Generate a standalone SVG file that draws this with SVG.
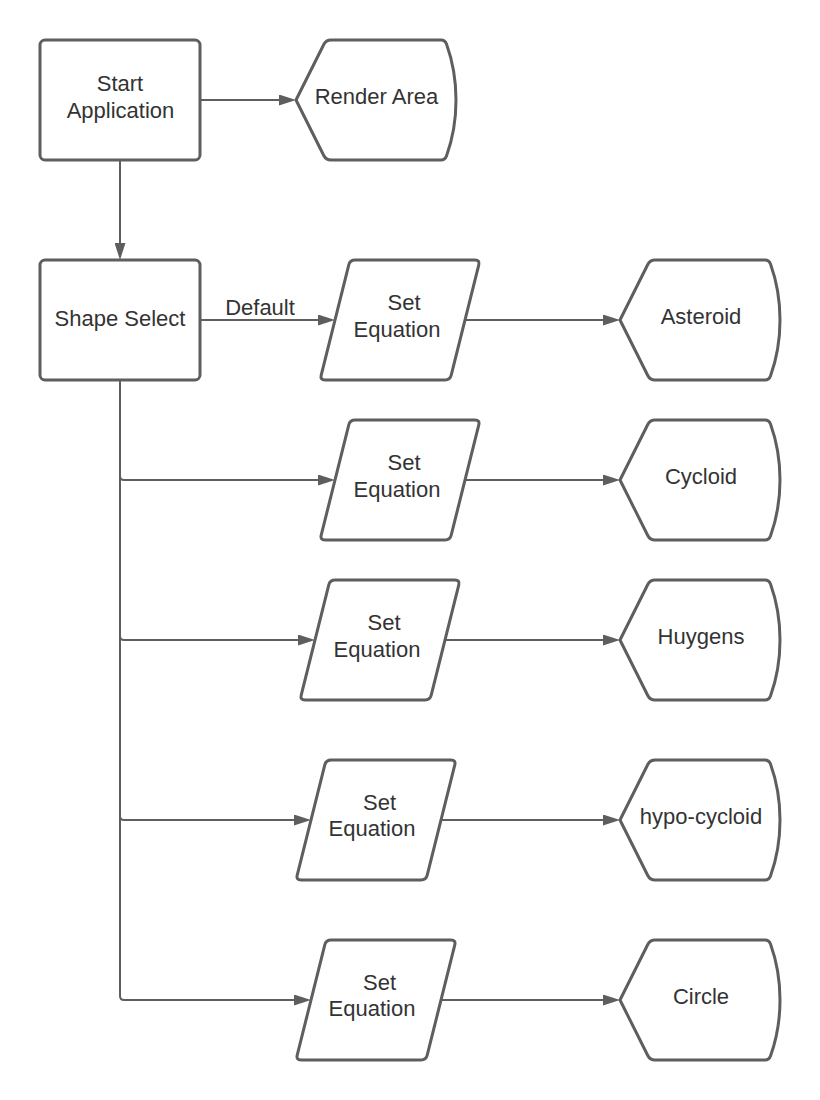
<svg xmlns="http://www.w3.org/2000/svg" xmlns:xlink="http://www.w3.org/1999/xlink" width="820" height="1100" viewBox="0 0 820 1100">
  <style>
    .shape { fill: #ffffff; stroke: #5e5e5e; stroke-width: 3; stroke-linejoin: round; }
    .conn { fill: none; stroke: #5e5e5e; stroke-width: 2; }
    .label { font-family: "Liberation Sans", Arial, sans-serif; font-size: 22px; fill: #333333; text-anchor: middle; }
  </style>
  <defs>
    <marker id="arrow" markerUnits="userSpaceOnUse" markerWidth="17" markerHeight="11" refX="14" refY="5.5" orient="auto">
      <path d="M0,0 L17,5.5 L0,11 Z" fill="#5e5e5e"/>
    </marker>
    <!-- process box, 160 x 120 -->
    <rect id="box" x="0" y="0" width="160" height="120" rx="5" ry="5"/>
    <!-- input/output parallelogram, 160 x 120, slant 30 -->
    <path id="para" d="M28.79,4.85 Q30,0 35,0 H155 Q160,0 158.79,4.85 L131.21,115.15 Q130,120 125,120 H5 Q0,120 1.21,115.15 Z"/>
    <!-- display shape, 160 x 120 -->
    <path id="display" d="M0,60 L27.76,4.47 Q30,0 35,0 H145 Q149,0 150.5,4 C157,22 160,42 160,60 C160,78 157,98 150.5,116 Q149,120 145,120 H35 Q30,120 27.76,115.53 Z"/>
  </defs>

  <!-- connectors -->
  <g id="connectors">
    <path class="conn" d="M200,100 H293" marker-end="url(#arrow)"/>
    <path class="conn" d="M120,160 V257" marker-end="url(#arrow)"/>
    <path class="conn" d="M200,320 H332" marker-end="url(#arrow)"/>
    <text class="label" x="260" y="315">Default</text>
    <path class="conn" d="M465,320 H617" marker-end="url(#arrow)"/>

    <path class="conn" d="M120,380 V476 Q120,480 124,480 H332" marker-end="url(#arrow)"/>
    <path class="conn" d="M465,480 H617" marker-end="url(#arrow)"/>

    <path class="conn" d="M120,380 V636 Q120,640 124,640 H312" marker-end="url(#arrow)"/>
    <path class="conn" d="M445,640 H617" marker-end="url(#arrow)"/>

    <path class="conn" d="M120,380 V816 Q120,820 124,820 H308" marker-end="url(#arrow)"/>
    <path class="conn" d="M441,820 H617" marker-end="url(#arrow)"/>

    <path class="conn" d="M120,380 V996 Q120,1000 124,1000 H308" marker-end="url(#arrow)"/>
    <path class="conn" d="M441,1000 H617" marker-end="url(#arrow)"/>
  </g>

  <g id="start-application">
    <use href="#box" xlink:href="#box" class="shape" x="40" y="40"/>
    <text class="label" x="120" y="91">Start</text>
    <text class="label" x="120.5" y="117.5">Application</text>
  </g>

  <g id="render-area">
    <use href="#display" xlink:href="#display" class="shape" x="296" y="40"/>
    <text class="label" x="376.5" y="104">Render Area</text>
  </g>

  <g id="shape-select">
    <use href="#box" xlink:href="#box" class="shape" x="40" y="260"/>
    <text class="label" x="120" y="326">Shape Select</text>
  </g>

  <g id="set-equation-1">
    <use href="#para" xlink:href="#para" class="shape" x="320" y="260"/>
    <text class="label" x="404" y="310">Set</text>
    <text class="label" x="397" y="337">Equation</text>
  </g>
  <g id="asteroid">
    <use href="#display" xlink:href="#display" class="shape" x="620" y="260"/>
    <text class="label" x="701" y="324">Asteroid</text>
  </g>

  <g id="set-equation-2">
    <use href="#para" xlink:href="#para" class="shape" x="320" y="420"/>
    <text class="label" x="404" y="470">Set</text>
    <text class="label" x="397" y="497">Equation</text>
  </g>
  <g id="cycloid">
    <use href="#display" xlink:href="#display" class="shape" x="620" y="420"/>
    <text class="label" x="701" y="484">Cycloid</text>
  </g>

  <g id="set-equation-3">
    <use href="#para" xlink:href="#para" class="shape" x="300" y="580"/>
    <text class="label" x="384" y="630">Set</text>
    <text class="label" x="377" y="657">Equation</text>
  </g>
  <g id="huygens">
    <use href="#display" xlink:href="#display" class="shape" x="620" y="580"/>
    <text class="label" x="701" y="644">Huygens</text>
  </g>

  <g id="set-equation-4">
    <use href="#para" xlink:href="#para" class="shape" x="296" y="760"/>
    <text class="label" x="379.5" y="809.5">Set</text>
    <text class="label" x="372" y="836">Equation</text>
  </g>
  <g id="hypo-cycloid">
    <use href="#display" xlink:href="#display" class="shape" x="620" y="760"/>
    <text class="label" x="701" y="823.5">hypo-cycloid</text>
  </g>

  <g id="set-equation-5">
    <use href="#para" xlink:href="#para" class="shape" x="296" y="940"/>
    <text class="label" x="379.5" y="989.5">Set</text>
    <text class="label" x="372" y="1016">Equation</text>
  </g>
  <g id="circle">
    <use href="#display" xlink:href="#display" class="shape" x="620" y="940"/>
    <text class="label" x="701" y="1004">Circle</text>
  </g>
</svg>
